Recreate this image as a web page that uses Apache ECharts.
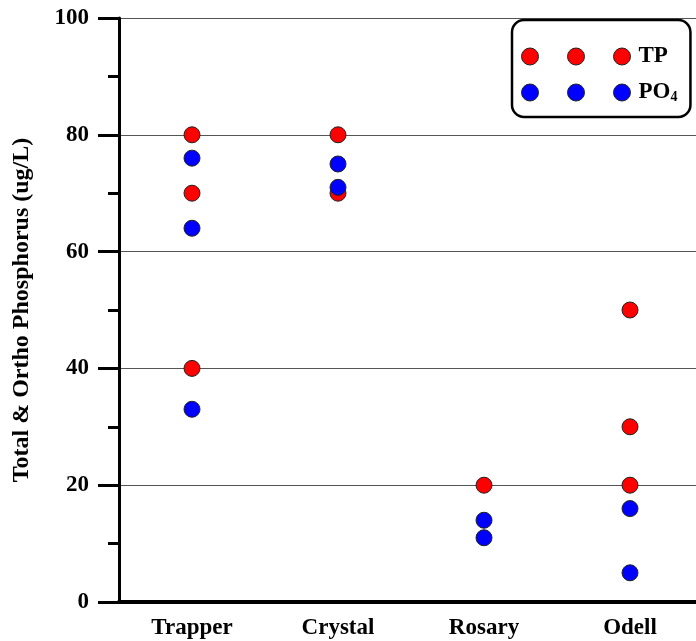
<!DOCTYPE html>
<html>
<head>
<meta charset="utf-8">
<script src="https://cdn.jsdelivr.net/npm/echarts@6/dist/echarts.min.js"></script>
<style>
  html, body { margin: 0; padding: 0; background: #fff; }
  #main { width: 696px; height: 641px; }
</style>
</head>
<body>
<div id="main"></div>
<script>
const sites = ['Trapper', 'Crystal', 'Rosary', 'Odell'];
const yTicks = [0, 20, 40, 60, 80, 100];

// total phosphorus
const tpSite = ['Trapper', 'Trapper', 'Trapper', 'Crystal', 'Crystal', 'Rosary', 'Odell', 'Odell', 'Odell'];
const tpValue = [80, 70, 40, 80, 70, 20, 50, 30, 20];

// ortho phosphate
const po4Site = ['Trapper', 'Trapper', 'Trapper', 'Crystal', 'Crystal', 'Rosary', 'Rosary', 'Odell', 'Odell'];
const po4Value = [76, 64, 33, 75, 71, 14, 11, 16, 5];

const font = 'Liberation Serif, Times New Roman, serif';

// three dots in a row for the legend
const threeDots =
  'path://M0,8.5a8.5,8.5 0 1,0 17,0a8.5,8.5 0 1,0 -17,0z' +
  'M46,8.5a8.5,8.5 0 1,0 17,0a8.5,8.5 0 1,0 -17,0z' +
  'M92,8.5a8.5,8.5 0 1,0 17,0a8.5,8.5 0 1,0 -17,0z';

const chart = echarts.init(document.getElementById('main'), null, { renderer: 'canvas' });

function pairs(s, v) {
  const out = [];
  for (let i = 0; i < s.length; ++i) out.push([s[i], v[i]]);
  return out;
}

const option = {
  backgroundColor: '#ffffff',
  animation: false,
  grid: { left: 119, top: 18, width: 584, height: 584, outerBoundsMode: 'none', containLabel: false },
  legend: {
    orient: 'vertical',
    left: 512,
    top: 20,
    padding: [25, 13, 13, 9],
    itemGap: 13,
    itemWidth: 109,
    itemHeight: 17,
    borderColor: '#000',
    borderWidth: 2.5,
    borderRadius: 12,
    backgroundColor: '#fff',
    data: [
      { name: 'TP', icon: threeDots },
      { name: 'PO4', icon: threeDots }
    ],
    itemStyle: { borderColor: '#222', borderWidth: 1 },
    formatter: function (name) {
      return name === 'PO4' ? 'PO{sub|4}' : name;
    },
    textStyle: {
      fontFamily: font,
      fontWeight: 'bold',
      fontSize: 23,
      color: '#000',
      padding: [0, 0, 0, 3],
      rich: {
        sub: { fontFamily: font, fontWeight: 'bold', fontSize: 14, color: '#000', verticalAlign: 'bottom', padding: [9, 0, 0, 0] }
      }
    }
  },
  xAxis: {
    type: 'category',
    data: sites,
    boundaryGap: true,
    axisLine: { show: true, lineStyle: { color: '#000', width: 4 } },
    axisTick: { show: false },
    axisLabel: { margin: 15, fontFamily: font, fontWeight: 'bold', fontSize: 23, color: '#000' },
    splitLine: { show: false }
  },
  yAxis: {
    type: 'value',
    min: yTicks[0],
    max: yTicks[yTicks.length - 1],
    interval: 20,
    name: 'Total & Ortho Phosphorus (ug/L)',
    nameLocation: 'middle',
    nameGap: 85,
    nameTextStyle: { fontFamily: font, fontWeight: 'bold', fontSize: 24, color: '#000' },
    axisLine: { show: true, lineStyle: { color: '#000', width: 3 } },
    axisTick: { show: true, length: 21, lineStyle: { color: '#000', width: 3 } },
    minorTick: { show: true, splitNumber: 2, length: 11, lineStyle: { color: '#000', width: 3 } },
    axisLabel: { margin: 30, fontFamily: font, fontWeight: 'bold', fontSize: 23, color: '#000' },
    splitLine: { show: true, lineStyle: { color: '#555', width: 1.2 } }
  },
  series: [
    {
      name: 'TP',
      type: 'scatter',
      symbol: 'circle',
      symbolSize: 16,
      itemStyle: { color: '#ff0000', borderColor: '#222', borderWidth: 1, opacity: 1 },
      data: pairs(tpSite, tpValue),
      z: 3
    },
    {
      name: 'PO4',
      type: 'scatter',
      symbol: 'circle',
      symbolSize: 16,
      itemStyle: { color: '#0000ff', borderColor: '#222', borderWidth: 1, opacity: 1 },
      data: pairs(po4Site, po4Value),
      z: 4
    }
  ]
};

chart.setOption(option);
</script>
</body>
</html>
